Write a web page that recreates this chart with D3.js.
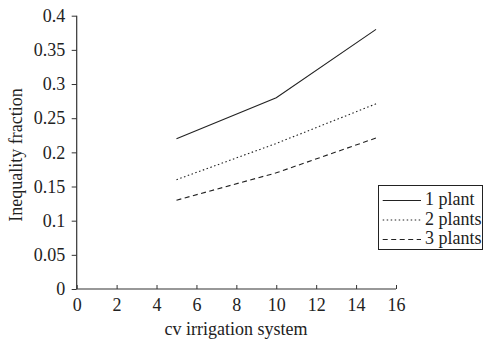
<!DOCTYPE html>
<html><head><meta charset="utf-8">
<script src="https://cdn.jsdelivr.net/npm/d3@7"></script>
<style>body{margin:0;background:#fff}svg{display:block}</style>
</head><body><svg id="c" width="483" height="340"></svg>
<script>
const xValues = [5, 10, 15];
const seriesNames = ["1 plant", "2 plants", "3 plants"];
const plant1 = [0.22, 0.28, 0.38];
const plant2 = [0.16, 0.213, 0.271];
const plant3 = [0.13, 0.17, 0.221];
const xTicks = [0, 2, 4, 6, 8, 10, 12, 14, 16];
const yTicks = [0, 0.05, 0.1, 0.15, 0.2, 0.25, 0.3, 0.35, 0.4];
const dashes = ["", "1.5,2.5", "5,3.5"];
const FONT = "'Liberation Serif'";

const svg = d3.select("#c");
const x = d3.scaleLinear().domain([0, 16]).range([76.7, 396]);
const y = d3.scaleLinear().domain([0, 0.4]).range([289, 15.7]);
const fs = 18;

const gx = svg.append("g").attr("transform", `translate(0,${y(0)})`)
  .call(d3.axisBottom(x).tickValues(xTicks).tickSize(-4).tickPadding(9.5).tickFormat(d3.format("d")));
const gy = svg.append("g").attr("transform", `translate(${x(0)},0)`)
  .call(d3.axisLeft(y).tickValues(yTicks).tickSize(5).tickPadding(6.5).tickFormat(d => String(+d.toFixed(2))));
svg.selectAll("g").attr("font-family", null).attr("font-size", null);
svg.selectAll(".tick text").style("font-family", FONT).style("font-size", fs + "px").attr("fill", "#222");
gx.selectAll("text").attr("dy", "0.71em");
svg.selectAll(".domain").attr("stroke", "#333").attr("stroke-width", 1.2);
svg.selectAll(".tick line").attr("stroke", "#333");
gx.select(".domain").attr("d", `M${x(0)},0H${x(16)}`);
gy.select(".domain").attr("d", `M0,${y(0)}V${y(0.4)}`);

const allSeries = [plant1, plant2, plant3];
const line = d3.line().x((d, i) => x(xValues[i])).y(d => y(d));
allSeries.forEach((s, k) => {
  svg.append("path").datum(s).attr("d", line).attr("fill", "none")
    .attr("stroke", "#222").attr("stroke-width", 1.1).attr("stroke-dasharray", dashes[k] || null);
});

svg.append("text").attr("x", 236).attr("y", 335).attr("text-anchor", "middle")
  .style("font-family", FONT).style("font-size", fs + "px").attr("fill", "#222").text("cv irrigation system");
svg.append("text").attr("transform", "translate(22,155) rotate(-90)").attr("text-anchor", "middle")
  .style("font-family", FONT).style("font-size", fs + "px").attr("fill", "#222").text("Inequality fraction");

const lg = svg.append("g");
lg.append("rect").attr("x", 378.5).attr("y", 185.5).attr("width", 104).attr("height", 64).attr("fill", "#fff").attr("stroke", "#222");
seriesNames.forEach((n, k) => {
  const yy = [200.5, 220, 239.5][k];
  lg.append("line").attr("x1", 382.7).attr("x2", 421).attr("y1", yy).attr("y2", yy)
    .attr("stroke", "#222").attr("stroke-width", 1.1).attr("stroke-dasharray", dashes[k] || null);
  lg.append("text").attr("x", 425).attr("y", yy + 4.5)
    .style("font-family", FONT).style("font-size", fs + "px").attr("fill", "#222").text(n);
});
</script></body></html>
